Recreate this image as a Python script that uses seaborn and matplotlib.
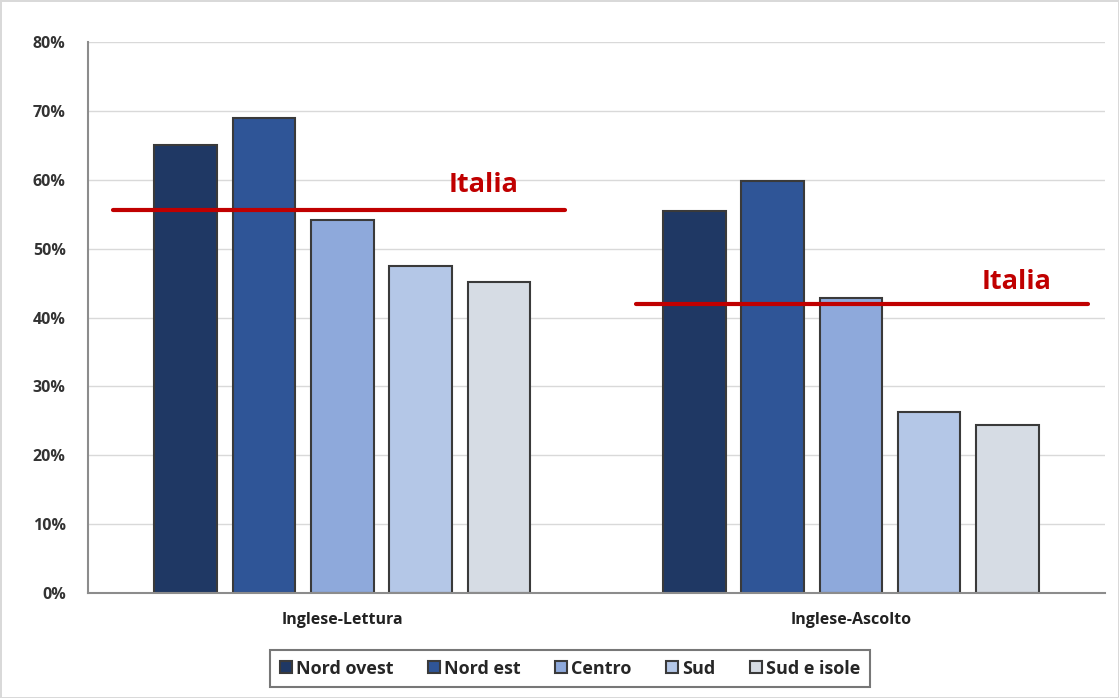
import matplotlib.pyplot as plt
import seaborn as sns
import pandas as pd
from matplotlib.ticker import PercentFormatter

sns.set_style("white")
plt.rcParams['font.family'] = ['Open Sans', 'DejaVu Sans']

# data
categories = ['Inglese-Lettura', 'Inglese-Ascolto']
regions = ['Nord ovest', 'Nord est', 'Centro', 'Sud', 'Sud e isole']
lettura = [65.0, 68.9, 54.1, 47.5, 45.1]
ascolto = [55.4, 59.8, 42.8, 26.3, 24.4]
italia = [55.6, 41.9]
colors = ['#1F3864', '#2F5597', '#8EA9DB', '#B4C7E7', '#D6DCE4']

df = pd.DataFrame({
    'categoria': [categories[0]] * 5 + [categories[1]] * 5,
    'area': regions * 2,
    'valore': lettura + ascolto,
})

fig = plt.figure(figsize=(11.19, 6.98), dpi=100)
ax = fig.add_axes([0.0786, 0.1504, 0.909, 0.7894])

sns.barplot(data=df, x='categoria', y='valore', hue='area', order=categories,
            hue_order=regions, palette=colors, width=0.77, gap=0.2,
            edgecolor='#3a3a3a', linewidth=1.5, saturation=1, ax=ax)

# national average lines
line_spans = [(-0.451, 0.438), (0.578, 1.467)]
text_pos = [(0.277, 59.3), (1.325, 45.2)]
for val, (x0, x1), (tx, ty) in zip(italia, line_spans, text_pos):
    ax.plot([x0, x1], [val, val], color='#C00000', linewidth=3, zorder=5, clip_on=False)
    ax.text(tx, ty, 'Italia', color='#C00000', fontsize=19.5, fontweight='bold',
            ha='center', va='center')

ax.set_xlim(-0.5, 1.5)
ax.set_ylim(0, 80)
ax.set_yticks(range(0, 81, 10))
ax.yaxis.set_major_formatter(PercentFormatter(decimals=0))
ax.grid(axis='y', color='#d9d9d9', linewidth=1)
ax.set_axisbelow(True)
ax.set_xlabel('')
ax.set_ylabel('')
ax.tick_params(axis='y', labelsize=11.5, length=0, pad=16, colors='#333333')
ax.tick_params(axis='x', labelsize=11.5, length=0, pad=14, colors='#222222')
for lab in ax.get_yticklabels() + ax.get_xticklabels():
    lab.set_fontweight('bold')
for side in ['top', 'right']:
    ax.spines[side].set_visible(False)
ax.spines['left'].set_color('#8c8c8c')
ax.spines['left'].set_linewidth(1.5)
ax.spines['bottom'].set_color('#8c8c8c')
ax.spines['bottom'].set_linewidth(1.5)

leg = ax.legend(loc='center', bbox_to_anchor=(0.474, -0.137), ncol=5, frameon=True,
                fancybox=False, edgecolor='#555555', fontsize=13, handlelength=0.65,
                handleheight=0.65, handletextpad=0.25, columnspacing=1.9, borderpad=0.55)
leg.get_frame().set_linewidth(1.5)
for t in leg.get_texts():
    t.set_fontweight('bold')

fig.patch.set_edgecolor('#d9d9d9')
fig.patch.set_linewidth(2)

plt.savefig('out.png', dpi=100)
